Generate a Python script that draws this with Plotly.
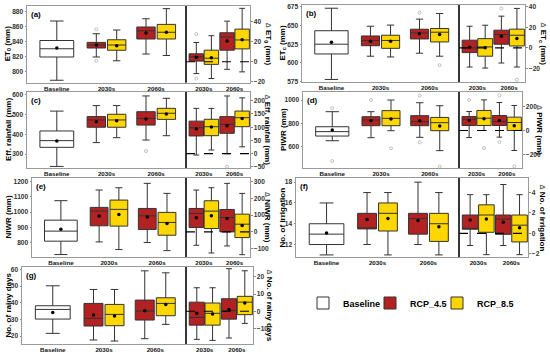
import plotly.graph_objects as go

W, H = 550, 356
FONT = "Liberation Sans"
RED = "#B22222"
YEL = "#FFD700"
LINE = "#333333"
FRAME = "#9a9a9a"

# ---------------- data ----------------
# every stats list: [lowerfence, q1, median, q3, upperfence, mean]
# rcp lists: [2030s, 2060s]
cats_abs = ["Baseline", "2030s", "2060s"]
cats_delta = ["2030s", "2060s"]
series_names = ["Baseline", "RCP_4.5", "RCP_8.5"]

# (a) ET0
et0_base = [788, 819, 830, 841, 867, 831]
et0_rcp45 = [[819, 831, 835, 838.5, 850, 835], [823, 843, 854, 859, 870, 851]]
et0_rcp85 = [[814, 828, 835, 842, 855, 834], [821, 843, 852, 862.5, 883.5, 852]]
et0_d45 = [[-11.7, 0.6, 4.9, 7.8, 19, 4.5], [-7.5, 11.4, 24.4, 28.6, 40, 20.5]]
et0_d85 = [[-16.6, -2.6, 3.5, 11.4, 25.7, 3.9], [-10, 12.7, 21.5, 32.2, 52.7, 21.8]]
et0_out_base = []
et0_out45 = [[856, 814], []]
et0_out85 = [[], []]
et0_dout45 = [[27.3, -16.6], []]
et0_dout85 = [[], []]

# (b) ETc
etc_base = [578, 612, 625, 643, 673, 627.5]
etc_rcp45 = [[609, 623, 630, 636, 649, 629], [613, 632, 640, 645, 658.5, 639]]
etc_rcp85 = [[608, 619.5, 630, 637, 650.5, 629], [609, 628, 641, 646, 666, 638]]
etc_d45 = [[-18.5, -4.5, 0, 7.5, 21, 0.6], [-14.6, 3.6, 13, 17.2, 30.8, 11.4]]
etc_d85 = [[-19.5, -8, 1, 9, 22, 0.3], [-18.5, 1.9, 12.3, 18.2, 38.3, 9.1]]
etc_out_base = []
etc_out45 = [[], [667]]
etc_out85 = [[], [597]]
etc_dout45 = [[], [38.3]]
etc_dout85 = [[], [-30.8]]

# (c) Effective rainfall
eff_base = [237, 334, 368, 417, 518, 366]
eff_rcp45 = [[358, 436, 473, 490, 546, 464], [371, 447, 481, 515, 595, 478]]
eff_rcp85 = [[383, 436, 473, 502, 546, 469], [393, 476, 507, 532, 583, 503]]
eff_d45 = [[-5, 67, 98, 123, 171, 93], [0, 77, 111, 140, 218, 106]]
eff_d85 = [[14, 68, 102, 130, 171, 101], [26, 102, 136, 161, 211, 133]]
eff_out_base = []
eff_out45 = [[], [315]]
eff_out85 = [[], []]
eff_dout45 = [[], [-49]]
eff_dout85 = [[], []]

# (d) PIWR
piwr_base = [651, 691, 729, 771, 900, 743]
piwr_rcp45 = [[677, 780, 829, 857, 900, 823], [680, 780, 814, 866, 977, 823]]
piwr_rcp85 = [[737, 780, 843, 909, 1000, 837], [566, 737, 806, 851, 951, 777]]
piwr_d45 = [[-59, 42, 95, 117, 159, 84], [-56, 42, 75, 126, 235, 84]]
piwr_d85 = [[0, 42, 103, 168, 257, 98], [-168, 0, 67, 112, 210, 39]]
piwr_out_base = [929, 477]
piwr_out45 = [[1000], [1037, 637]]
piwr_out85 = [[586], [429]]
piwr_dout45 = [[257], [294, -98]]
piwr_dout85 = [[-148], [-302]]

# (e) NIWR
niwr_base = [721, 809, 875, 947, 1075, 888]
niwr_rcp45 = [[804, 910, 1007, 1031, 1145, 974], [800, 886, 976, 1024, 1189, 967]]
niwr_rcp85 = [[754, 908, 1018, 1079, 1160, 985], [747, 848, 932, 998, 1123, 925]]
niwr_d45 = [[-80, 26, 110, 140, 250, 84], [-84, 0, 86, 134, 290, 80]]
niwr_d85 = [[-126, 20, 124, 186, 264, 96], [-136, -34, 46, 106, 230, 38]]
niwr_out_base = []
niwr_out45 = [[], []]
niwr_out85 = [[], []]
niwr_dout45 = [[], []]
niwr_dout85 = [[], []]

# (f) No. of irrigation
irr_base = [11, 12, 13, 14, 16, 13.1]
irr_rcp45 = [[12, 13.5, 13.5, 15, 17, 14.4], [12, 13, 14.5, 15, 18, 14.3]]
irr_rcp85 = [[11, 13.3, 15, 16, 17, 14.5], [11, 12.3, 14, 15, 17, 13.7]]
irr_d45 = [[-1.2, 0.4, 0.4, 1.8, 3.8, 1.3], [-1.2, -0.1, 1.4, 1.8, 4.8, 1.1]]
irr_d85 = [[-2.1, 0.1, 1.8, 2.8, 3.8, 1.4], [-2.1, -0.85, 0.8, 1.8, 3.8, 0.55]]
irr_out_base = []
irr_out45 = [[], []]
irr_out85 = [[], []]
irr_dout45 = [[], []]
irr_dout85 = [[], []]

# (g) No. of rainy days
rain_base = [21.6, 30.2, 36, 38.2, 50.2, 34.2]
rain_rcp45 = [[17.6, 26, 30.6, 39.6, 48, 32.6], [18.4, 29.6, 35, 41.6, 59.2, 35.2]]
rain_rcp85 = [[17, 26.2, 33, 39, 48, 32], [27, 32.2, 39.6, 43, 58, 39]]
rain_d45 = [[-16.4, -8.1, -3.6, 5.3, 13.7, -1.2], [-15.6, -4.6, 0.4, 7.3, 24.8, 1]]
rain_d85 = [[-17, -8.1, -1.2, 4.8, 13.7, -1.6], [-7.1, -2, 5.3, 8.7, 23.6, 4.8]]
rain_out_base = []
rain_out45 = [[], []]
rain_out85 = [[], []]
rain_dout45 = [[], []]
rain_dout85 = [[], []]

DELTA = '<span style="font-size:7px;color:#666">\u0394</span> '

# ---------------- panel layout (pixels) ----------------
panels = [
    dict(tag="(a)", title="ET<sub>0</sub> (mm)", dtitle=DELTA + "ET<sub>0</sub> (mm)",
         base=et0_base, r45=et0_rcp45, r85=et0_rcp85, d45=et0_d45, d85=et0_d85,
         ob=et0_out_base, o45=et0_out45, o85=et0_out85, do45=et0_dout45, do85=et0_dout85,
         px=(27, 186, 250), py=(6, 82.5), yr=(785, 887), dyr=(-20.5, 55),
         tv=[800, 820, 840, 860, 880], dtv=[-20, 0, 20, 40], tx=8, dtx=267.5),
    dict(tag="(b)", title="ET<sub>c</sub> (mm)", dtitle=DELTA + "ET<sub>c</sub> (mm)",
         base=etc_base, r45=etc_rcp45, r85=etc_rcp85, d45=etc_d45, d85=etc_d85,
         ob=etc_out_base, o45=etc_out45, o85=etc_out85, do45=etc_dout45, do85=etc_dout85,
         px=(302, 459, 525), py=(5, 82), yr=(574.6, 677.3), dyr=(-33, 41.6),
         tv=[575, 600, 625, 650, 675], dtv=[-20, 0, 20, 40], tx=283, dtx=542),
    dict(tag="(c)", title="Eff. rainfall (mm)", dtitle=DELTA + "Eff. rainfall (mm)",
         base=eff_base, r45=eff_rcp45, r85=eff_rcp85, d45=eff_d45, d85=eff_d85,
         ob=eff_out_base, o45=eff_out45, o85=eff_out85, do45=eff_dout45, do85=eff_dout85,
         px=(27, 186, 250), py=(92, 168), yr=(229, 615), dyr=(-54, 233),
         tv=[300, 400, 500, 600], dtv=[-50, 0, 50, 100, 150, 200], tx=8, dtx=267.5),
    dict(tag="(d)", title="PIWR (mm)", dtitle=DELTA + "PIWR (mm)",
         base=piwr_base, r45=piwr_rcp45, r85=piwr_rcp85, d45=piwr_d45, d85=piwr_d85,
         ob=piwr_out_base, o45=piwr_out45, o85=piwr_out85, do45=piwr_dout45, do85=piwr_dout85,
         px=(303, 459, 522), py=(92, 168), yr=(417, 1069), dyr=(-315, 323),
         tv=[600, 800, 1000], dtv=[-200, 0, 200], tx=283, dtx=540),
    dict(tag="(e)", title="NIWR (mm)", dtitle=DELTA + "NIWR (mm)",
         base=niwr_base, r45=niwr_rcp45, r85=niwr_rcp85, d45=niwr_d45, d85=niwr_d85,
         ob=niwr_out_base, o45=niwr_out45, o85=niwr_out85, do45=niwr_dout45, do85=niwr_dout85,
         px=(32, 186, 250), py=(178, 257), yr=(705, 1224), dyr=(-150, 322),
         tv=[800, 900, 1000, 1100, 1200], dtv=[-100, 0, 100, 200, 300], tx=8, dtx=267.5),
    dict(tag="(f)", title="No. of irrigation", dtitle=DELTA + "No. of irrigation",
         base=irr_base, r45=irr_rcp45, r85=irr_rcp85, d45=irr_d45, d85=irr_d85,
         ob=irr_out_base, o45=irr_out45, o85=irr_out85, do45=irr_dout45, do85=irr_dout85,
         px=(296, 459, 528), py=(178, 257), yr=(10.8, 18.4), dyr=(-2.33, 5.44),
         tv=[12, 14, 16, 18], dtv=[-2, 0, 2, 4], tx=282, dtx=542),
    dict(tag="(g)", title="No. of rainy days", dtitle=DELTA + "No. of rainy days",
         base=rain_base, r45=rain_rcp45, r85=rain_rcp85, d45=rain_d45, d85=rain_d85,
         ob=rain_out_base, o45=rain_out45, o85=rain_out85, do45=rain_dout45, do85=rain_dout85,
         px=(22, 186, 253), py=(267, 344), yr=(15.2, 61.5), dyr=(-19.1, 25.8),
         tv=[20, 30, 40, 50, 60], dtv=[-10, 0, 10, 20], tx=8, dtx=269),
]

fig = go.Figure()
layout = dict(
    width=W, height=H, margin=dict(l=0, r=0, t=0, b=0),
    paper_bgcolor="white", plot_bgcolor="white", template="none",
    boxmode="overlay", showlegend=True,
    font=dict(family=FONT, size=7, color="#222"),
)
shapes, annotations = [], []

YTICKFONT = dict(family=FONT, size=6.6, color="#333", weight="bold")
XTICKFONT = dict(family=FONT, size=6.2, color="#111", weight="bold")
LEGENDS = {"Baseline": "legend", "RCP_4.5": "legend2", "RCP_8.5": "legend3"}


def ax(n):
    return ("x" if n == 1 else f"x{n}"), ("y" if n == 1 else f"y{n}")


def add_boxes(stats, xs, width, fill, xa, ya, name, legend):
    fig.add_trace(go.Box(
        x=xs,
        lowerfence=[s[0] for s in stats], q1=[s[1] for s in stats],
        median=[s[2] for s in stats], q3=[s[3] for s in stats],
        upperfence=[s[4] for s in stats],
        width=width, fillcolor=fill, line=dict(color=LINE, width=1),
        whiskerwidth=0.4, boxpoints=False, xaxis=xa, yaxis=ya,
        name=name, legendgroup=name, legend=LEGENDS[name], showlegend=legend,
        hoverinfo="skip"))
    fig.add_trace(go.Scatter(
        x=xs, y=[s[5] for s in stats], mode="markers", xaxis=xa, yaxis=ya,
        marker=dict(color="black", size=3.5), showlegend=False, hoverinfo="skip"))


def add_outliers(xs, groups, xa, ya):
    px_, py_ = [], []
    for x, g in zip(xs, groups):
        for v in g:
            px_.append(x)
            py_.append(v)
    if px_:
        fig.add_trace(go.Scatter(
            x=px_, y=py_, mode="markers", xaxis=xa, yaxis=ya,
            marker=dict(symbol="circle-open", color="#b0b0b0", size=3, line=dict(width=0.8)),
            showlegend=False, hoverinfo="skip"))


OFF_L, W_L, W_BASE = 0.205, 0.37, 0.68
OFF_R, W_R = 0.245, 0.47

for i, p in enumerate(panels):
    nl, nr = 2 * i + 1, 2 * i + 2
    xl, yl = ax(nl)
    xr, yr_ = ax(nr)
    x0, xm, x1 = p["px"]
    ytop, ybot = p["py"]
    first = i == 0

    # left: absolute values
    add_boxes([p["base"]], [0], W_BASE, "white", xl, yl, series_names[0], first)
    pos45 = [k - OFF_L for k in (1, 2)]
    pos85 = [k + OFF_L for k in (1, 2)]
    add_boxes(p["r45"], pos45, W_L, RED, xl, yl, series_names[1], first)
    add_boxes(p["r85"], pos85, W_L, YEL, xl, yl, series_names[2], first)
    add_outliers([0], [p["ob"]], xl, yl)
    add_outliers(pos45, p["o45"], xl, yl)
    add_outliers(pos85, p["o85"], xl, yl)

    # right: changes
    dpos45 = [k - OFF_R for k in (0, 1)]
    dpos85 = [k + OFF_R for k in (0, 1)]
    add_boxes(p["d45"], dpos45, W_R, RED, xr, yr_, series_names[1], False)
    add_boxes(p["d85"], dpos85, W_R, YEL, xr, yr_, series_names[2], False)
    add_outliers(dpos45, p["do45"], xr, yr_)
    add_outliers(dpos85, p["do85"], xr, yr_)

    ydom = [1 - ybot / H, 1 - ytop / H]
    common_x = dict(showline=True, linecolor=FRAME, linewidth=1, mirror=True, ticks="",
                    showgrid=False, zeroline=False, tickfont=XTICKFONT, automargin=False)
    common_y = dict(showline=True, linecolor=FRAME, linewidth=1, mirror=True,
                    ticks="outside", ticklen=1.5, tickcolor="#888", showgrid=False,
                    zeroline=False, tickfont=YTICKFONT, automargin=False)
    layout["xaxis" if nl == 1 else f"xaxis{nl}"] = dict(
        domain=[x0 / W, xm / W], anchor=yl, range=[-0.6, 2.6],
        tickvals=[0, 1, 2], ticktext=cats_abs, **common_x)
    layout["yaxis" if nl == 1 else f"yaxis{nl}"] = dict(
        domain=ydom, anchor=xl, range=list(p["yr"]), tickvals=p["tv"], side="left", **common_y)
    layout[f"xaxis{nr}"] = dict(
        domain=[xm / W, x1 / W], anchor=yr_, range=[-0.58, 1.5],
        tickvals=[0, 1], ticktext=cats_delta, **common_x)
    layout[f"yaxis{nr}"] = dict(
        domain=ydom, anchor=xr, range=list(p["dyr"]), tickvals=p["dtv"], side="right", **common_y)

    # zero reference line and divider
    shapes.append(dict(type="line", xref=f"{xr} domain", yref=yr_, x0=0, x1=1, y0=0, y1=0,
                       line=dict(color="black", width=1.2, dash="dash"), layer="above"))
    shapes.append(dict(type="line", xref=f"{xr} domain", yref=f"{yr_} domain", x0=0, x1=0,
                       y0=0, y1=1, line=dict(color="black", width=1.3), layer="above"))

    yc = 1 - (ytop + ybot) / 2 / H
    annotations.append(dict(text=p["title"], xref="paper", yref="paper", x=p["tx"] / W, y=yc,
                            textangle=-90, showarrow=False, xanchor="center", yanchor="middle",
                            font=dict(family=FONT, size=8, color="black", weight="bold")))
    annotations.append(dict(text=p["dtitle"], xref="paper", yref="paper", x=p["dtx"] / W, y=yc,
                            textangle=90, showarrow=False, xanchor="center", yanchor="middle",
                            font=dict(family=FONT, size=8, color="black", weight="bold")))
    annotations.append(dict(text=p["tag"], xref=f"{xl} domain", yref=f"{yl} domain",
                            x=0.01, y=0.98, xanchor="left", yanchor="top", showarrow=False,
                            font=dict(family=FONT, size=8, color="black", weight="bold")))

layout["shapes"] = shapes
layout["annotations"] = annotations
LEGFONT = dict(family=FONT, size=9, color="black", weight="bold")
for key, lx in zip(["legend", "legend2", "legend3"], [303, 370, 437]):
    layout[key] = dict(orientation="h", x=lx / W, y=1 - 303 / H, xanchor="left",
                       yanchor="middle", itemwidth=30, bgcolor="rgba(0,0,0,0)", font=LEGFONT)
fig.update_layout(**layout)
fig.write_html("out.html", config={"displayModeBar": False},
               post_script="document.body.style.margin='0';document.body.style.padding='0';")
